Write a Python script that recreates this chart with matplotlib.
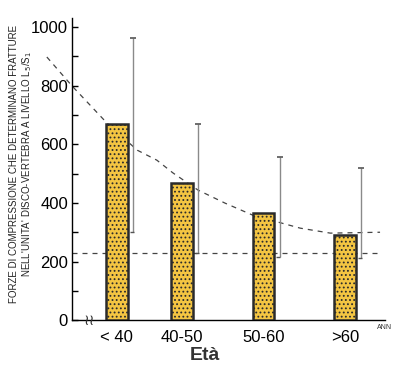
import numpy as np
import matplotlib
matplotlib.use("Agg")
import matplotlib.pyplot as plt

# ------------------------------
# Data
# ------------------------------
ages = ["< 40", "40-50", "50-60", ">60"]
forza_media = [669, 468, 365, 290]
forza_max = [962, 669, 556, 519]
forza_min = [300, 229, 215, 212]

# dashed trend curve, (age position, force)
curva_x = [-0.86, -0.55, -0.12, 0.25, 0.49, 0.69, 0.995, 1.33, 1.67, 2.25, 2.62, 3.23]
curva_y = [898, 799, 672, 580, 546, 502, 444, 399, 358, 314, 297, 300]
soglia = 229

# layout: bar positions along the age axis (first gap narrower, as in the original)
xpos = np.array([0, 0.8, 1.8, 2.8])

plt.rcParams['font.family'] = ['Liberation Sans', 'DejaVu Sans']
plt.rcParams['hatch.color'] = '#4a3a1a'
plt.rcParams['hatch.linewidth'] = 0.8

fig = plt.figure(figsize=[3.94, 3.68], dpi=100)
ax = fig.add_axes([0.183, 0.130, 0.794, 0.821])

ax.plot(curva_x, curva_y, ls=(0, (4, 4)), color='#444444', lw=0.9, zorder=1, clip_on=False)
ax.plot([-0.55, 3.2], [soglia, soglia], ls=(0, (4, 4)), color='#444444', lw=0.9, zorder=1)

ax.bar(xpos, forza_media, 0.26, color='#f4c542', edgecolor='#2b2b2b', linewidth=1.8,
       hatch='....', zorder=3)

# range whiskers, to the right of each bar
wx = xpos + 0.2
ax.vlines(wx, forza_min, forza_max, color='#8a8a8a', lw=1.0, zorder=2)
ax.plot(wx, forza_max, ls='none', marker='_', ms=4, mew=1.2, color='#555555', zorder=2)
ax.plot(wx - 0.02, forza_min, ls='none', marker='_', ms=3, mew=1.0, color='#555555', zorder=2)

ax.set_xlim(-0.55, 3.29)
ax.set_ylim(0, 1031)
ax.set_yticks(np.arange(0, 1001, 200))
ax.set_yticks(np.arange(100, 1001, 200), minor=True)
ax.tick_params(axis='y', which='both', direction='in', length=4, width=1, pad=3, labelsize=12)
ax.set_xticks(xpos, ages)
ax.tick_params(axis='x', length=0, pad=7, labelsize=12)

for s in ['top', 'right']:
    ax.spines[s].set_visible(False)
ax.spines['left'].set_linewidth(1.0)
ax.spines['bottom'].set_linewidth(1.0)

ax.text(0.055, 0.0, "\u2240\u2240", transform=ax.transAxes, fontsize=11, ha='center', va='center',
        family='DejaVu Sans', color='#333333', zorder=5)
ax.text(3.19, -12, "ANN", fontsize=5, ha='left', va='top', color='#333333')

fig.text(0.52, 0.035, "Età", fontsize=14, ha='center', va='center', fontweight='bold', color='#333333')

fig.text(0.035, 0.555, "FORZE DI COMPRESSIONE CHE DETERMINANO FRATTURE", rotation=90,
         fontsize=7, ha='center', va='center', color='#222222')
fig.text(0.068, 0.555, "NELL'UNITA' DISCO-VERTEBRA A LIVELLO L$_5$/S$_1$", rotation=90,
         fontsize=7, ha='center', va='center', color='#222222')

fig.savefig("out.png", dpi=100)
